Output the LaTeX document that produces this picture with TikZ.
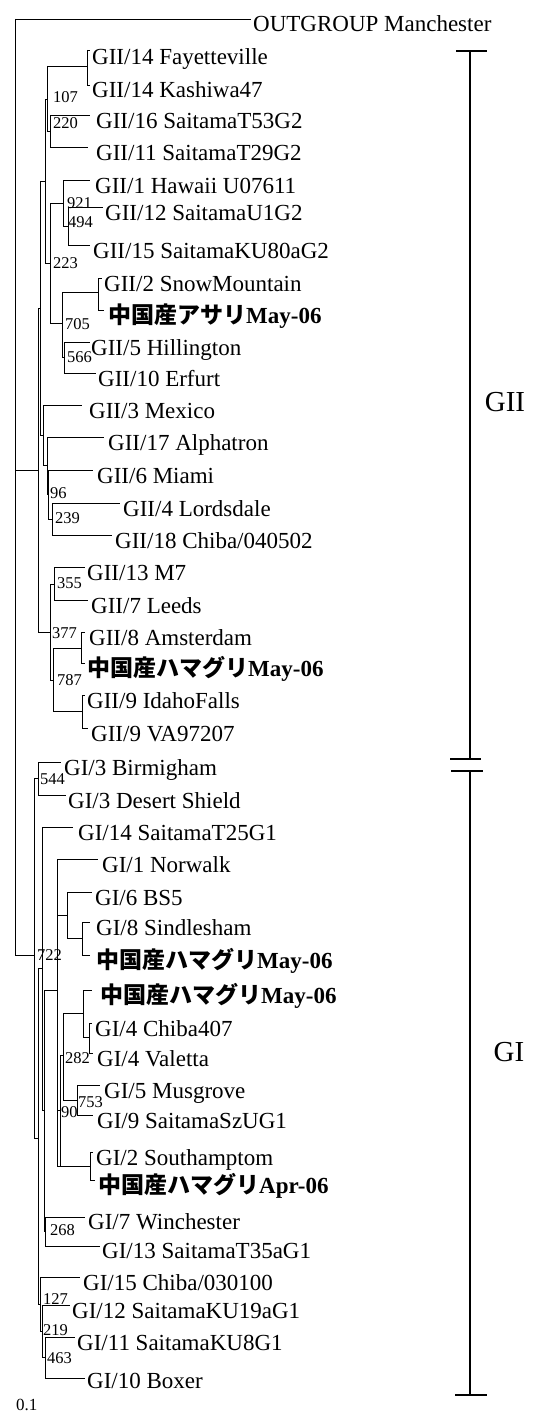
\documentclass[tikz,border=0pt]{standalone}
\usepackage{fontspec}
\setmainfont{Liberation Serif}
\newfontfamily\cjk{Noto Sans CJK JP}
\newcommand\tHb[3]{\draw[br] (#1,#3)--(#2,#3);}
\newcommand\tVb[3]{\draw[br] (#1,#2)--(#1,#3);}
\newcommand\jp[2]{{\cjk\bfseries #1}\textbf{#2}}
\begin{document}
\begin{tikzpicture}[x=1pt,y=-1pt,
  br/.style={line width=0.9pt},
  bar/.style={line width=1.4pt},
  leaf/.style={anchor=base west,inner sep=0pt,font=\fontsize{23}{25}\selectfont},
  boot/.style={anchor=base west,inner sep=0pt,font=\fontsize{16.5}{18}\selectfont},
  grp/.style={anchor=base,inner sep=0pt,font=\fontsize{29}{31}\selectfont}]
\fill[white] (0,0) rectangle (540,1413);
\useasboundingbox (0,0) rectangle (540,1413);
% ---------- root ----------
\tVb{15}{19}{955}
\tHb{15}{251}{19}
\tHb{15}{38}{470}
\tHb{15}{34}{955}
% ---------- GII ----------
\tVb{38}{308}{632}
\tHb{38}{40}{308}
\tVb{40}{181}{435}
\tHb{40}{45}{181}
\tVb{45}{99}{263}
\tHb{45}{47}{99}
\tVb{47}{66}{131}
\tHb{47}{87}{66}
\tVb{87}{50}{85}
\tHb{87}{90}{50}\tHb{87}{90}{85}
\tHb{47}{50}{131}
\tVb{50}{115}{147}
\tHb{50}{90}{115}\tHb{50}{88}{147}
\tHb{45}{50}{263}
\tVb{50}{203}{323}
\tHb{50}{63}{203}
\tVb{63}{180}{226}
\tHb{63}{90}{180}
\tHb{63}{68}{226}
\tVb{68}{207}{245}
\tHb{68}{103}{207}\tHb{68}{90}{245}
\tHb{50}{62}{323}
\tVb{62}{292}{357}
\tHb{62}{98}{292}
\tVb{98}{278}{310}
\tHb{98}{102}{278}\tHb{98}{104}{310}
\tHb{62}{64}{357}
\tVb{64}{342}{373}
\tHb{64}{90}{342}\tHb{64}{96}{373}
\tHb{40}{43}{435}
\tVb{43}{405}{465}
\tHb{43}{82}{405}
\tHb{43}{47}{465}
\tVb{47}{437}{494}
\tHb{47}{104}{437}
\tHb{47}{48}{494}
\tVb{48}{470}{519}
\tHb{48}{93}{470}
\tHb{48}{52}{519}
\tVb{52}{503}{535}
\tHb{52}{120}{503}\tHb{52}{112}{535}
\tHb{38}{50}{632}
\tVb{50}{584}{680}
\tHb{50}{54}{584}
\tVb{54}{567}{600}
\tHb{54}{85}{567}\tHb{54}{88}{600}
\tHb{50}{53}{680}
\tVb{53}{648}{711}
\tHb{53}{81}{648}
\tVb{81}{632}{663}
\tHb{81}{85}{632}\tHb{81}{85}{663}
\tHb{53}{82}{711}
\tVb{82}{695}{728}
\tHb{82}{85}{695}\tHb{82}{88}{728}
% ---------- GI ----------
\tVb{34}{778}{1138}
\tHb{34}{38}{778}
\tVb{38}{762}{795}
\tHb{38}{61}{762}\tHb{38}{66}{795}
\tHb{34}{38}{1138}
\tVb{38}{968}{1304}
\tHb{38}{42}{968}
\tVb{42}{827}{1110}
\tHb{42}{73}{827}
\tHb{42}{44}{1110}
\tVb{44}{990}{1231}
\tHb{44}{57}{990}
\tVb{57}{859}{1166}
\tHb{57}{98}{859}
\tHb{57}{67}{915}
\tVb{67}{892}{938}
\tHb{67}{92}{892}
\tHb{67}{82}{938}
\tVb{82}{922}{955}
\tHb{82}{90}{922}\tHb{82}{90}{955}
\tHb{57}{60}{1110}
\tVb{60}{1055}{1166}
\tHb{60}{63}{1055}
\tVb{63}{1013}{1100}
\tHb{63}{83}{1013}
\tVb{83}{990}{1037}
\tHb{83}{92}{990}
\tHb{83}{89}{1037}
\tVb{89}{1023}{1053}
\tHb{89}{92}{1023}\tHb{89}{93}{1053}
\tHb{63}{77}{1100}
\tVb{77}{1085}{1115}
\tHb{77}{100}{1085}\tHb{77}{93}{1115}
\tHb{57}{90}{1166}
\tVb{90}{1152}{1180}
\tHb{90}{93}{1152}\tHb{90}{95}{1180}
\tHb{44}{45}{1231}
\tVb{45}{1217}{1246}
\tHb{45}{85}{1217}\tHb{45}{100}{1246}
\tHb{38}{40}{1304}
\tVb{40}{1277}{1331}
\tHb{40}{80}{1277}
\tHb{40}{42}{1331}
\tVb{42}{1305}{1357}
\tHb{42}{70}{1305}
\tHb{42}{45}{1357}
\tVb{45}{1337}{1378}
\tHb{45}{75}{1337}\tHb{45}{85}{1378}
% ---------- leaves ----------
\node[leaf] (l1) at (253,32) {OUTGROUP Manchester};
\node[leaf] (l2) at (92,64) {GII/14 Fayetteville};
\node[leaf] (l3) at (92,97) {GII/14 Kashiwa47};
\node[leaf] (l4) at (96,128) {GII/16 SaitamaT53G2};
\node[leaf] (l5) at (96,160) {GII/11 SaitamaT29G2};
\node[leaf] (l6) at (95,193) {GII/1 Hawaii U07611};
\node[leaf] (l7) at (105,220) {GII/12 SaitamaU1G2};
\node[leaf] (l8) at (93,258) {GII/15 SaitamaKU80aG2};
\node[leaf] (l9) at (104,291) {GII/2 SnowMountain};
\node[leaf] (l10) at (108,323) {\jp{中国産アサリ}{May-06}};
\node[leaf] (l11) at (91,355) {GII/5 Hillington};
\node[leaf] (l12) at (98,386) {GII/10 Erfurt};
\node[leaf] (l13) at (89,418) {GII/3 Mexico};
\node[leaf] (l14) at (108,450) {GII/17 Alphatron};
\node[leaf] (l15) at (97,483) {GII/6 Miami};
\node[leaf] (l16) at (123,516) {GII/4 Lordsdale};
\node[leaf] (l17) at (115,548) {GII/18 Chiba/040502};
\node[leaf] (l18) at (87,580) {GII/13 M7};
\node[leaf] (l19) at (91,613) {GII/7 Leeds};
\node[leaf] (l20) at (89,645) {GII/8 Amsterdam};
\node[leaf] (l21) at (87,676) {\jp{中国産ハマグリ}{May-06}};
\node[leaf] (l22) at (87,708) {GII/9 IdahoFalls};
\node[leaf] (l23) at (91,741) {GII/9 VA97207};
\node[leaf] (l24) at (64,775) {GI/3 Birmigham};
\node[leaf] (l25) at (68,808) {GI/3 Desert Shield};
\node[leaf] (l26) at (78,840) {GI/14 SaitamaT25G1};
\node[leaf] (l27) at (102,872) {GI/1 Norwalk};
\node[leaf] (l28) at (95,905) {GI/6 BS5};
\node[leaf] (l29) at (96,935) {GI/8 Sindlesham};
\node[leaf] (l30) at (96,968) {\jp{中国産ハマグリ}{May-06}};
\node[leaf] (l31) at (100,1003) {\jp{中国産ハマグリ}{May-06}};
\node[leaf] (l32) at (95,1036) {GI/4 Chiba407};
\node[leaf] (l33) at (97,1066) {GI/4 Valetta};
\node[leaf] (l34) at (104,1098) {GI/5 Musgrove};
\node[leaf] (l35) at (97,1128) {GI/9 SaitamaSzUG1};
\node[leaf] (l36) at (96,1165) {GI/2 Southamptom};
\node[leaf] (l37) at (98,1193) {\jp{中国産ハマグリ}{Apr-06}};
\node[leaf] (l38) at (88,1229) {GI/7 Winchester};
\node[leaf] (l39) at (102,1258) {GI/13 SaitamaT35aG1};
\node[leaf] (l40) at (83,1290) {GI/15 Chiba/030100};
\node[leaf] (l41) at (72,1318) {GI/12 SaitamaKU19aG1};
\node[leaf] (l42) at (77,1350) {GI/11 SaitamaKU8G1};
\node[leaf] (l43) at (87,1388) {GI/10 Boxer};
% ---------- bootstrap values ----------
\node[boot] (b107) at (53,102) {107};
\node[boot] (b220) at (53,128) {220};
\node[boot] (b921) at (67,208) {921};
\node[boot] (b494) at (68,227) {494};
\node[boot] (b223) at (53,268) {223};
\node[boot] (b705) at (65,329) {705};
\node[boot] (b566) at (67,362) {566};
\node[boot] (b96) at (50,498) {96};
\node[boot] (b239) at (55,523) {239};
\node[boot] (b355) at (57,588) {355};
\node[boot] (b377) at (52,638) {377};
\node[boot] (b787) at (57,685) {787};
\node[boot] (b544) at (40,784) {544};
\node[boot] (b722) at (37,960) {722};
\node[boot] (b282) at (65,1063) {282};
\node[boot] (b753) at (78,1107) {753};
\node[boot] (b90) at (61,1117) {90};
\node[boot] (b268) at (50,1235) {268};
\node[boot] (b127) at (43,1304) {127};
\node[boot] (b219) at (43,1335) {219};
\node[boot] (b463) at (47,1363) {463};
% ---------- scale ----------
\node[anchor=base west,inner sep=0pt,font=\fontsize{17}{19}\selectfont] (scale) at (16,1410) {0.1};
% ---------- group bars ----------
\coordinate (g2t) at (470,51);
\coordinate (g2b) at (470,759);
\coordinate (g1t) at (470,771);
\coordinate (g1b) at (470,1395);
\draw[bar] (g2t) -- (g2b);
\draw[bar] ([xshift=-14pt]g2t) -- ([xshift=17pt]g2t);
\draw[bar] ([xshift=-20pt]g2b) -- ([xshift=11pt]g2b);
\draw[bar] (g1t) -- (g1b);
\draw[bar] ([xshift=-19pt]g1t) -- ([xshift=13pt]g1t);
\draw[bar] ([xshift=-15pt]g1b) -- ([xshift=17pt]g1b);
\node[grp] (gii) at (505,411) {GII};
\node[grp] (gi) at (509,1061) {GI};
\end{tikzpicture}
\end{document}
